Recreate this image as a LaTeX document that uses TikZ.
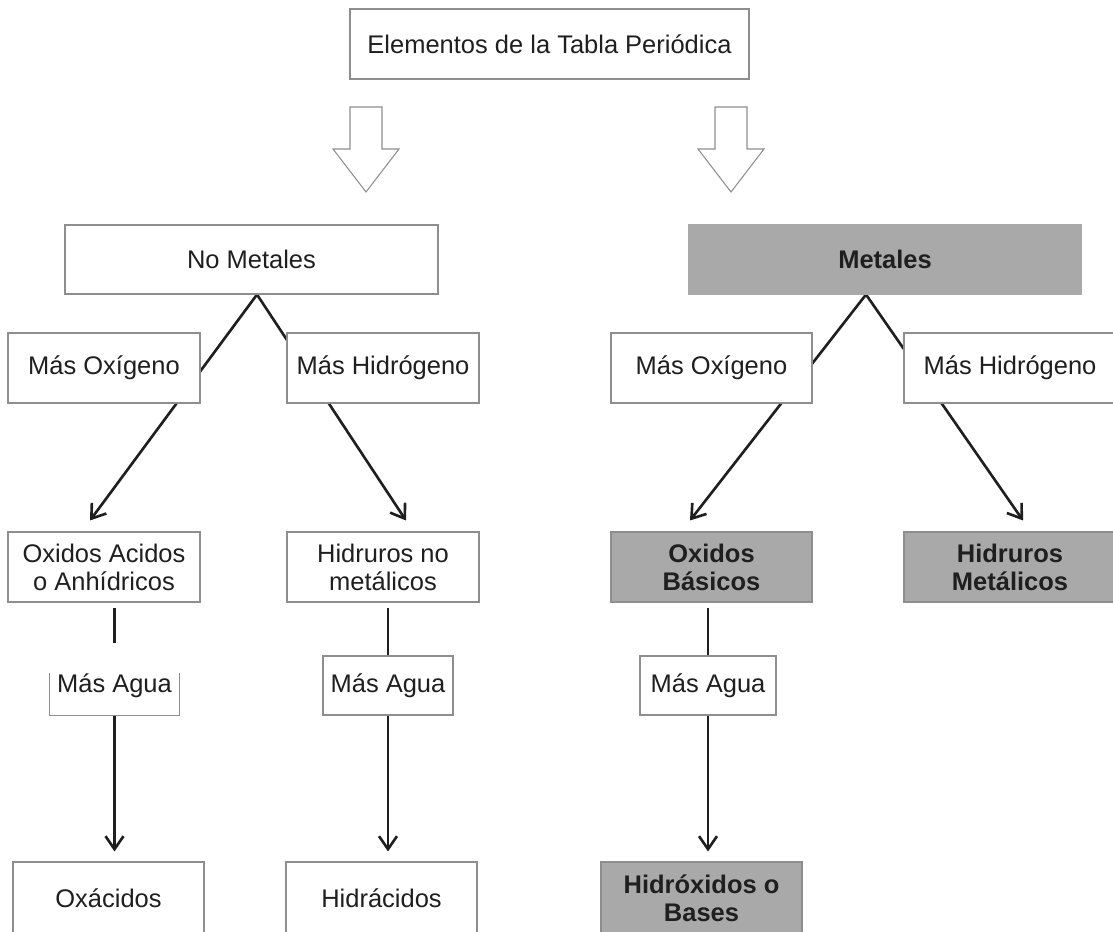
\documentclass[tikz,border=0pt]{standalone}
\usepackage{fontspec}
\setmainfont{Liberation Sans}
\usetikzlibrary{arrows.meta,calc,backgrounds}
\definecolor{metalgray}{HTML}{A9A9A9}
\definecolor{edge}{HTML}{8E8E8E}
\tikzset{box/.style={draw=edge,line width=0.6pt,fill=white,align=center,inner sep=0pt,text=black!88,font=\fontsize{14.5}{16}\selectfont},metbox/.style={box,fill=metalgray,font=\bfseries\fontsize{14.5}{16}\selectfont},arrow/.style={-{Straight Barb[length=2.6mm,width=3.6mm]},line width=1.5pt,black!88},link/.style={line width=1.5pt,black!88},hollow/.style={draw=edge,line width=0.6pt,fill=white}}
\begin{document}
\begin{tikzpicture}
\useasboundingbox (0,0) rectangle (22.26,-18.62);
\clip (0,0) rectangle (22.26,-18.62);
\node[box,minimum width=79.8mm,minimum height=14mm] (el) at (10.99,-0.88) {Elementos de la Tabla Periódica};
\foreach \x in {7.32,14.62}{\draw[hollow] (\x-0.32,-2.14) -- (\x+0.32,-2.14) -- (\x+0.32,-2.98) -- (\x+0.66,-2.98) -- (\x,-3.84) -- (\x-0.66,-2.98) -- (\x-0.32,-2.98) -- cycle;}
\node[box,minimum width=74.6mm,minimum height=13.8mm] (nm) at (5.03,-5.19) {No Metales};
\node[metbox,draw=metalgray,minimum width=78.4mm,minimum height=13.8mm] (me) at (17.70,-5.19) {Metales};
\node[box,minimum width=38.4mm,minimum height=14mm] (mo1) at (2.08,-7.36) {Más Oxígeno};
\node[box,minimum width=38.4mm,minimum height=14mm] (mh1) at (7.66,-7.36) {Más Hidrógeno};
\node[box,minimum width=40.2mm,minimum height=14mm] (mo2) at (14.23,-7.36) {Más Oxígeno};
\node[box,minimum width=42.4mm,minimum height=14mm] (mh2) at (20.20,-7.36) {Más Hidrógeno};
\node[box,minimum width=38.4mm,minimum height=14mm] (oa) at (2.08,-11.34) {Oxidos Acidos\\o Anhídricos};
\node[box,minimum width=38.4mm,minimum height=14mm] (hn) at (7.66,-11.34) {Hidruros no\\metálicos};
\node[metbox,minimum width=40.2mm,minimum height=14mm] (ob) at (14.23,-11.34) {Oxidos\\Básicos};
\node[metbox,minimum width=42.4mm,minimum height=14mm] (hmet) at (20.20,-11.34) {Hidruros\\Metálicos};
\node[box,draw=none,minimum width=25.8mm,minimum height=11.8mm] (ma1) at (2.29,-13.71) {Más Agua};
\node[box,minimum width=26mm,minimum height=11.8mm] (ma2) at (7.76,-13.71) {Más Agua};
\node[box,minimum width=27.2mm,minimum height=11.8mm] (ma3) at (14.16,-13.71) {Más Agua};
\node[box,minimum width=38.2mm,minimum height=14.4mm] (ox) at (2.17,-17.96) {Oxácidos};
\node[box,minimum width=38.2mm,minimum height=14.4mm] (hd) at (7.63,-17.96) {Hidrácidos};
\node[metbox,minimum width=40.2mm,minimum height=14.4mm] (hb) at (14.03,-17.96) {Hidróxidos o\\Bases};
\draw[draw=edge,line width=0.6pt] ([yshift=-3.6mm]ma1.north west) -- (ma1.south west) -- (ma1.south east) -- ([yshift=-3.6mm]ma1.north east);
\begin{scope}[on background layer]
\draw[arrow] ([xshift=1.1mm]nm.south) -- ($(oa.north)+(-0.28,0.22)$);
\draw[arrow] ([xshift=1.1mm]nm.south) -- ($(hn.north)+(0.46,0.22)$);
\draw[arrow] ([xshift=-3.8mm]me.south) -- ($(ob.north)+(-0.43,0.22)$);
\draw[arrow] ([xshift=-3.8mm]me.south) -- ($(hmet.north)+(0.26,0.22)$);
\end{scope}
\draw[link] ([yshift=-1mm]oa.south -| ma1.north) -- ([yshift=2.4mm]ma1.north);
\foreach \a/\m in {hn/ma2,ob/ma3}{\draw[link] ([yshift=-1mm]\a.south -| \m.north) -- (\m.north);}
\foreach \m/\b in {ma1/ox,ma2/hd,ma3/hb}{\draw[arrow,shorten >=2mm] (\m.south) -- (\b.north -| \m.south);}
\end{tikzpicture}
\end{document}
